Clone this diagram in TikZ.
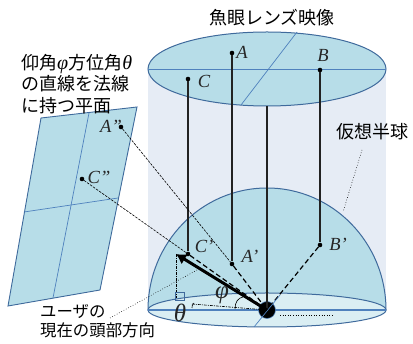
\documentclass[tikz,border=0pt]{standalone}
\usepackage{fontspec}
\setmainfont{Liberation Serif}
\newfontfamily\jp{Noto Sans CJK JP}
\usetikzlibrary{arrows.meta}
\definecolor{disc}{HTML}{B7DDE8}
\definecolor{pale}{HTML}{DAEEF3}
\definecolor{cyl}{HTML}{E6ECF5}
\definecolor{edge}{HTML}{3F6A9C}
\definecolor{thin}{HTML}{4F81BD}
\definecolor{ink}{HTML}{222222}
\tikzset{
  x=1pt,y=-1pt,
  outline/.style={draw=edge,line width=1pt},
  axis/.style={draw=thin,line width=0.7pt},
  ray/.style={draw=ink,line width=1.5pt},
  thinray/.style={black,line width=0.6pt,dash pattern=on 2.5pt off 1.2pt},
  thickray/.style={black,line width=1.2pt,dash pattern=on 5pt off 3pt},
  guide/.style={black,line width=0.6pt,dash pattern=on 3pt off 1pt on 1pt off 1pt},
  leader/.style={thin,line width=0.6pt,dotted},
  pt/.style={circle,fill=black,inner sep=0pt,minimum size=4.6pt},
  lab/.style={inner sep=0pt,font=\fontsize{18.5}{18.5}\selectfont\itshape,text=black!85},
  biglab/.style={inner sep=0pt,font=\fontsize{25}{25}\selectfont\itshape,text=black!85},
  jlab/.style={inner sep=0pt,font=\fontsize{18}{21.5}\selectfont\jp,align=left},
}
\begin{document}
\begin{tikzpicture}
\useasboundingbox (0,0) rectangle (413,344);
% cylinder
\fill[cyl] (148,69) rectangle (386,310);
% top disc
\draw[outline,fill=disc] (267,69) ellipse [x radius=119,y radius=37];
\coordinate (t1) at (148,69); \coordinate (t2) at (386,69);
\coordinate (t3) at (297,32); \coordinate (t4) at (241,105);
\draw[axis] (t1) -- (t2); \draw[axis] (t3) -- (t4);
% dome
\draw[outline,fill=disc] (148,310) arc [start angle=180,end angle=360,x radius=119,y radius=122] -- cycle;
\draw[outline,fill=pale] (267,310) ellipse [x radius=119,y radius=17];
\coordinate (b1) at (148,310); \coordinate (b2) at (386,310);
\coordinate (b3) at (254,327); \coordinate (b4) at (280,295);
\draw[line width=1.4pt,draw=thin] (b1) -- (b2);
% plane
\draw[outline,line width=0.9pt,fill=disc] (41,118) -- (137,107) -- (100,290) -- (8,306) -- cycle;
\coordinate (p1) at (89,113); \coordinate (p2) at (53,298);
\coordinate (p3) at (24,212); \coordinate (p4) at (118,198);
\draw[axis] (p1) -- (p2); \draw[axis] (p3) -- (p4);
% points
\node[pt] (A) at (232,53) {};
\node[pt] (B) at (320,70) {};
\node[pt] (C) at (188,79) {};
\node[pt] (A1) at (232,264) {};
\node[pt] (B1) at (320,245) {};
\node[pt] (C1) at (188,254) {};
\node[pt] (A2) at (121,127) {};
\node[pt] (C2) at (82,179) {};
\node[circle,fill=black,draw=thin,line width=0.5pt,minimum size=17pt,inner sep=0pt] (O) at (267,310) {};
\coordinate (top) at (267,106);
\coordinate (tip) at (176,254);
\coordinate (foot) at (176,298);
\coordinate (base) at (192,304);
% rays
\draw[ray] (A) -- (A1); \draw[ray] (B) -- (B1); \draw[ray] (C) -- (C1); \draw[ray,line width=1.2pt] (top) -- (O.center);
\draw[thinray] (A2) -- (A1); \draw[thinray] (C2) -- (C1);
\draw[thickray] (A1) -- (O.center); \draw[thickray] (B1) -- (O.center); \draw[thickray] (C1) -- (O.center);
\draw[axis] (b3) -- (b4);
% head direction
\draw[-{Latex[length=10pt,width=12pt]},line width=3pt,black] (O.center) -- (tip);
\draw[guide] (tip) -- (foot);
\draw[edge,line width=0.8pt] (175,292) rectangle (184,300);
\draw[guide] (base) -- (O.center);
\draw[black,line width=0.6pt] (235,309) .. controls (235,302) and (238,298) .. (243,297);
\draw[black,line width=0.6pt] (194,303) .. controls (192,305) and (192,306) .. (192,308);
% dotted leaders
\coordinate (l1) at (110,318); \coordinate (l2) at (197,270);
\draw[leader] (l1) -- (l2);
\coordinate (l3) at (362,150); \coordinate (l4) at (343,212);
\draw[leader] (l3) -- (l4);
\coordinate (d1) at (280,315); \coordinate (d2) at (334,315);
\draw[black,line width=0.6pt,dotted] (d1) -- (d2);
% labels
\node[lab] at (242,52) {A};
\node[lab] at (323,55) {B};
\node[lab] at (204,81) {C};
\node[lab] at (250,256) {A’};
\node[lab] at (338,244) {B’};
\node[lab] at (204,246) {C’};
\node[lab] at (111,126) {A”};
\node[lab] at (99,177) {C”};
\node[biglab] at (180,313) {θ};
\node[biglab] at (222,295) {φ};
\node[jlab] at (272,18) {魚眼レンズ映像};
\node[jlab,anchor=north west] at (21,54) {仰角{\fontsize{20}{15}\selectfont\normalfont\itshape φ}方位角{\fontsize{20}{15}\selectfont\normalfont\itshape θ}\\の直線を法線\\に持つ平面};
\node[jlab] at (372,132) {仮想半球};
\node[jlab,anchor=north west,font=\fontsize{16.4}{19.5}\selectfont\jp] at (40,304) {ユーザの\\現在の頭部方向};
\end{tikzpicture}
\end{document}
